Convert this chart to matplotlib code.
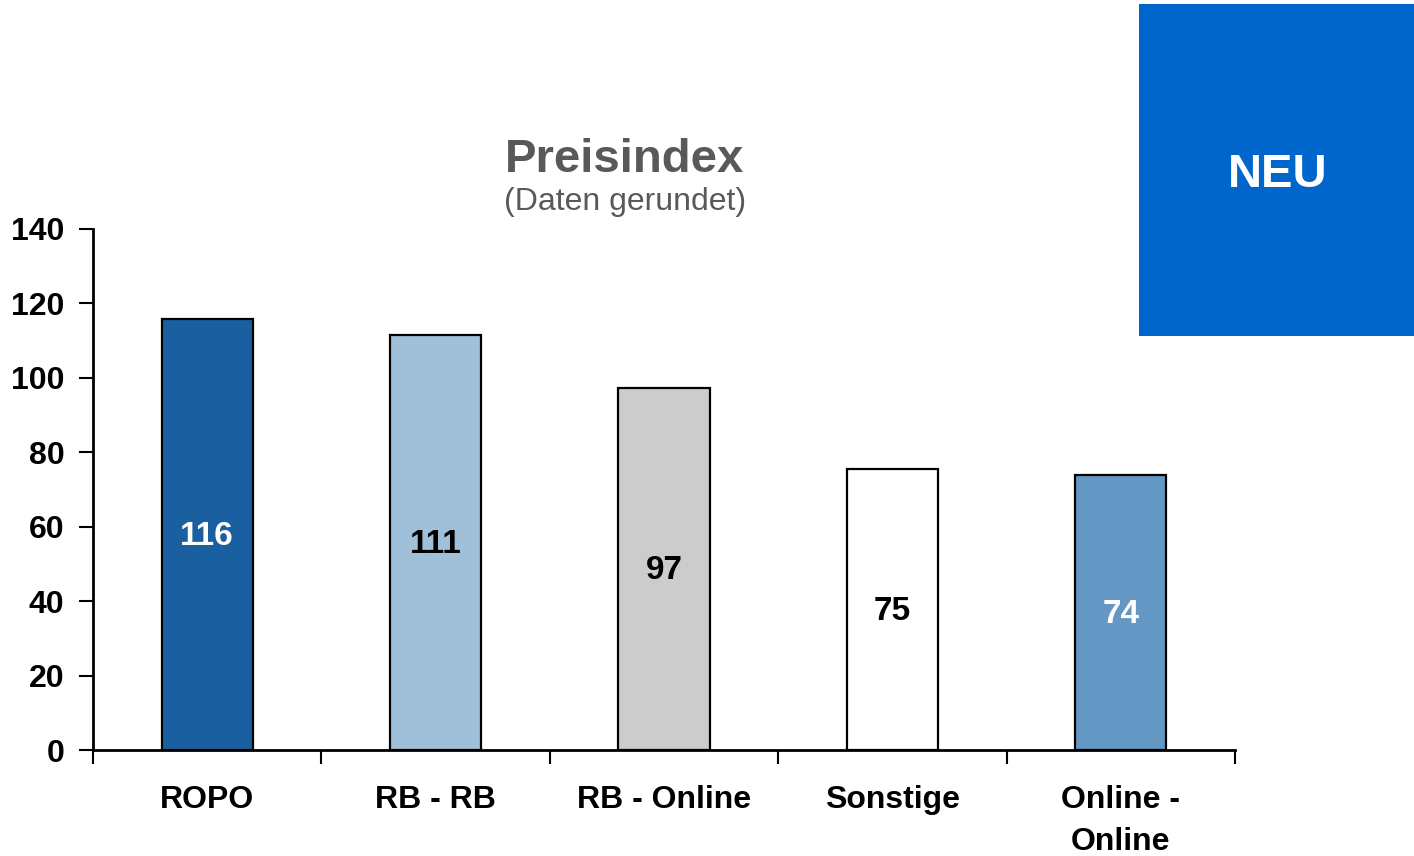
import matplotlib
matplotlib.use("Agg")
import matplotlib.pyplot as plt
from matplotlib.patches import Rectangle

plt.rcParams["font.family"] = ["Liberation Sans", "DejaVu Sans"]

categories = ["ROPO", "RB - RB", "RB - Online", "Sonstige", "Online -\nOnline"]
values = [115.8, 111.4, 97.2, 75.6, 73.9]
labels = ["116", "111", "97", "75", "74"]
colors = ["#1a60a0", "#a0bfd9", "#cccccc", "#ffffff", "#6497c3"]
label_colors = ["white", "black", "black", "black", "white"]
yticks = [0, 20, 40, 60, 80, 100, 120, 140]


def main():
    fig = plt.figure(figsize=(14.14, 8.56), dpi=100)
    W, H = 1414, 856
    ax = fig.add_axes([93 / W, 1 - 750 / H, (1235 - 93) / W, (750 - 229) / H])

    xs = [i + 0.5 for i in range(len(categories))]
    ax.bar(xs, values, width=0.4, color=colors, edgecolor="black", linewidth=1.6, zorder=2)
    for x, v, lab, c in zip(xs, values, labels, label_colors):
        ax.text(x, v / 2 - 0.5, lab, ha="center", va="center", fontsize=24,
                fontweight="bold", color=c)

    ax.set_xlim(0, 5)
    ax.set_ylim(0, 140)
    ax.set_yticks(yticks)
    ax.set_yticklabels([str(t) for t in yticks], fontsize=23, fontweight="bold")
    ax.set_xticks(range(6))
    ax.set_xticklabels([])
    ax.set_xticks(xs, minor=True)
    ax.set_xticklabels(categories, minor=True, fontsize=23, fontweight="bold",
                       linespacing=1.55, va="top")
    ax.tick_params(axis="x", which="minor", length=0, pad=25)
    ax.tick_params(axis="x", which="major", length=10, width=1.5, direction="out")
    ax.tick_params(axis="y", length=10, width=1.5, direction="out", pad=10.5)
    for s in ["top", "right"]:
        ax.spines[s].set_visible(False)
    for s in ["left", "bottom"]:
        ax.spines[s].set_linewidth(2)

    fig.text(625 / W, 1 - 160 / H, "Preisindex", ha="center", va="center",
             fontsize=34, fontweight="bold", color="#595959")
    fig.text(625 / W, 1 - 202 / H, "(Daten gerundet)", ha="center", va="center",
             fontsize=23, color="#595959")

    fig.patches.append(Rectangle((1139 / W, 1 - 336 / H), (1414 - 1139) / W, (336 - 4) / H,
                                 transform=fig.transFigure, facecolor="#0066cc",
                                 edgecolor="none"))
    fig.text(1278 / W, 1 - 175 / H, "NEU", ha="center", va="center",
             fontsize=34, fontweight="bold", color="white")

    fig.savefig("out.png", dpi=100)
    plt.close(fig)


if __name__ == "__main__":
    main()
